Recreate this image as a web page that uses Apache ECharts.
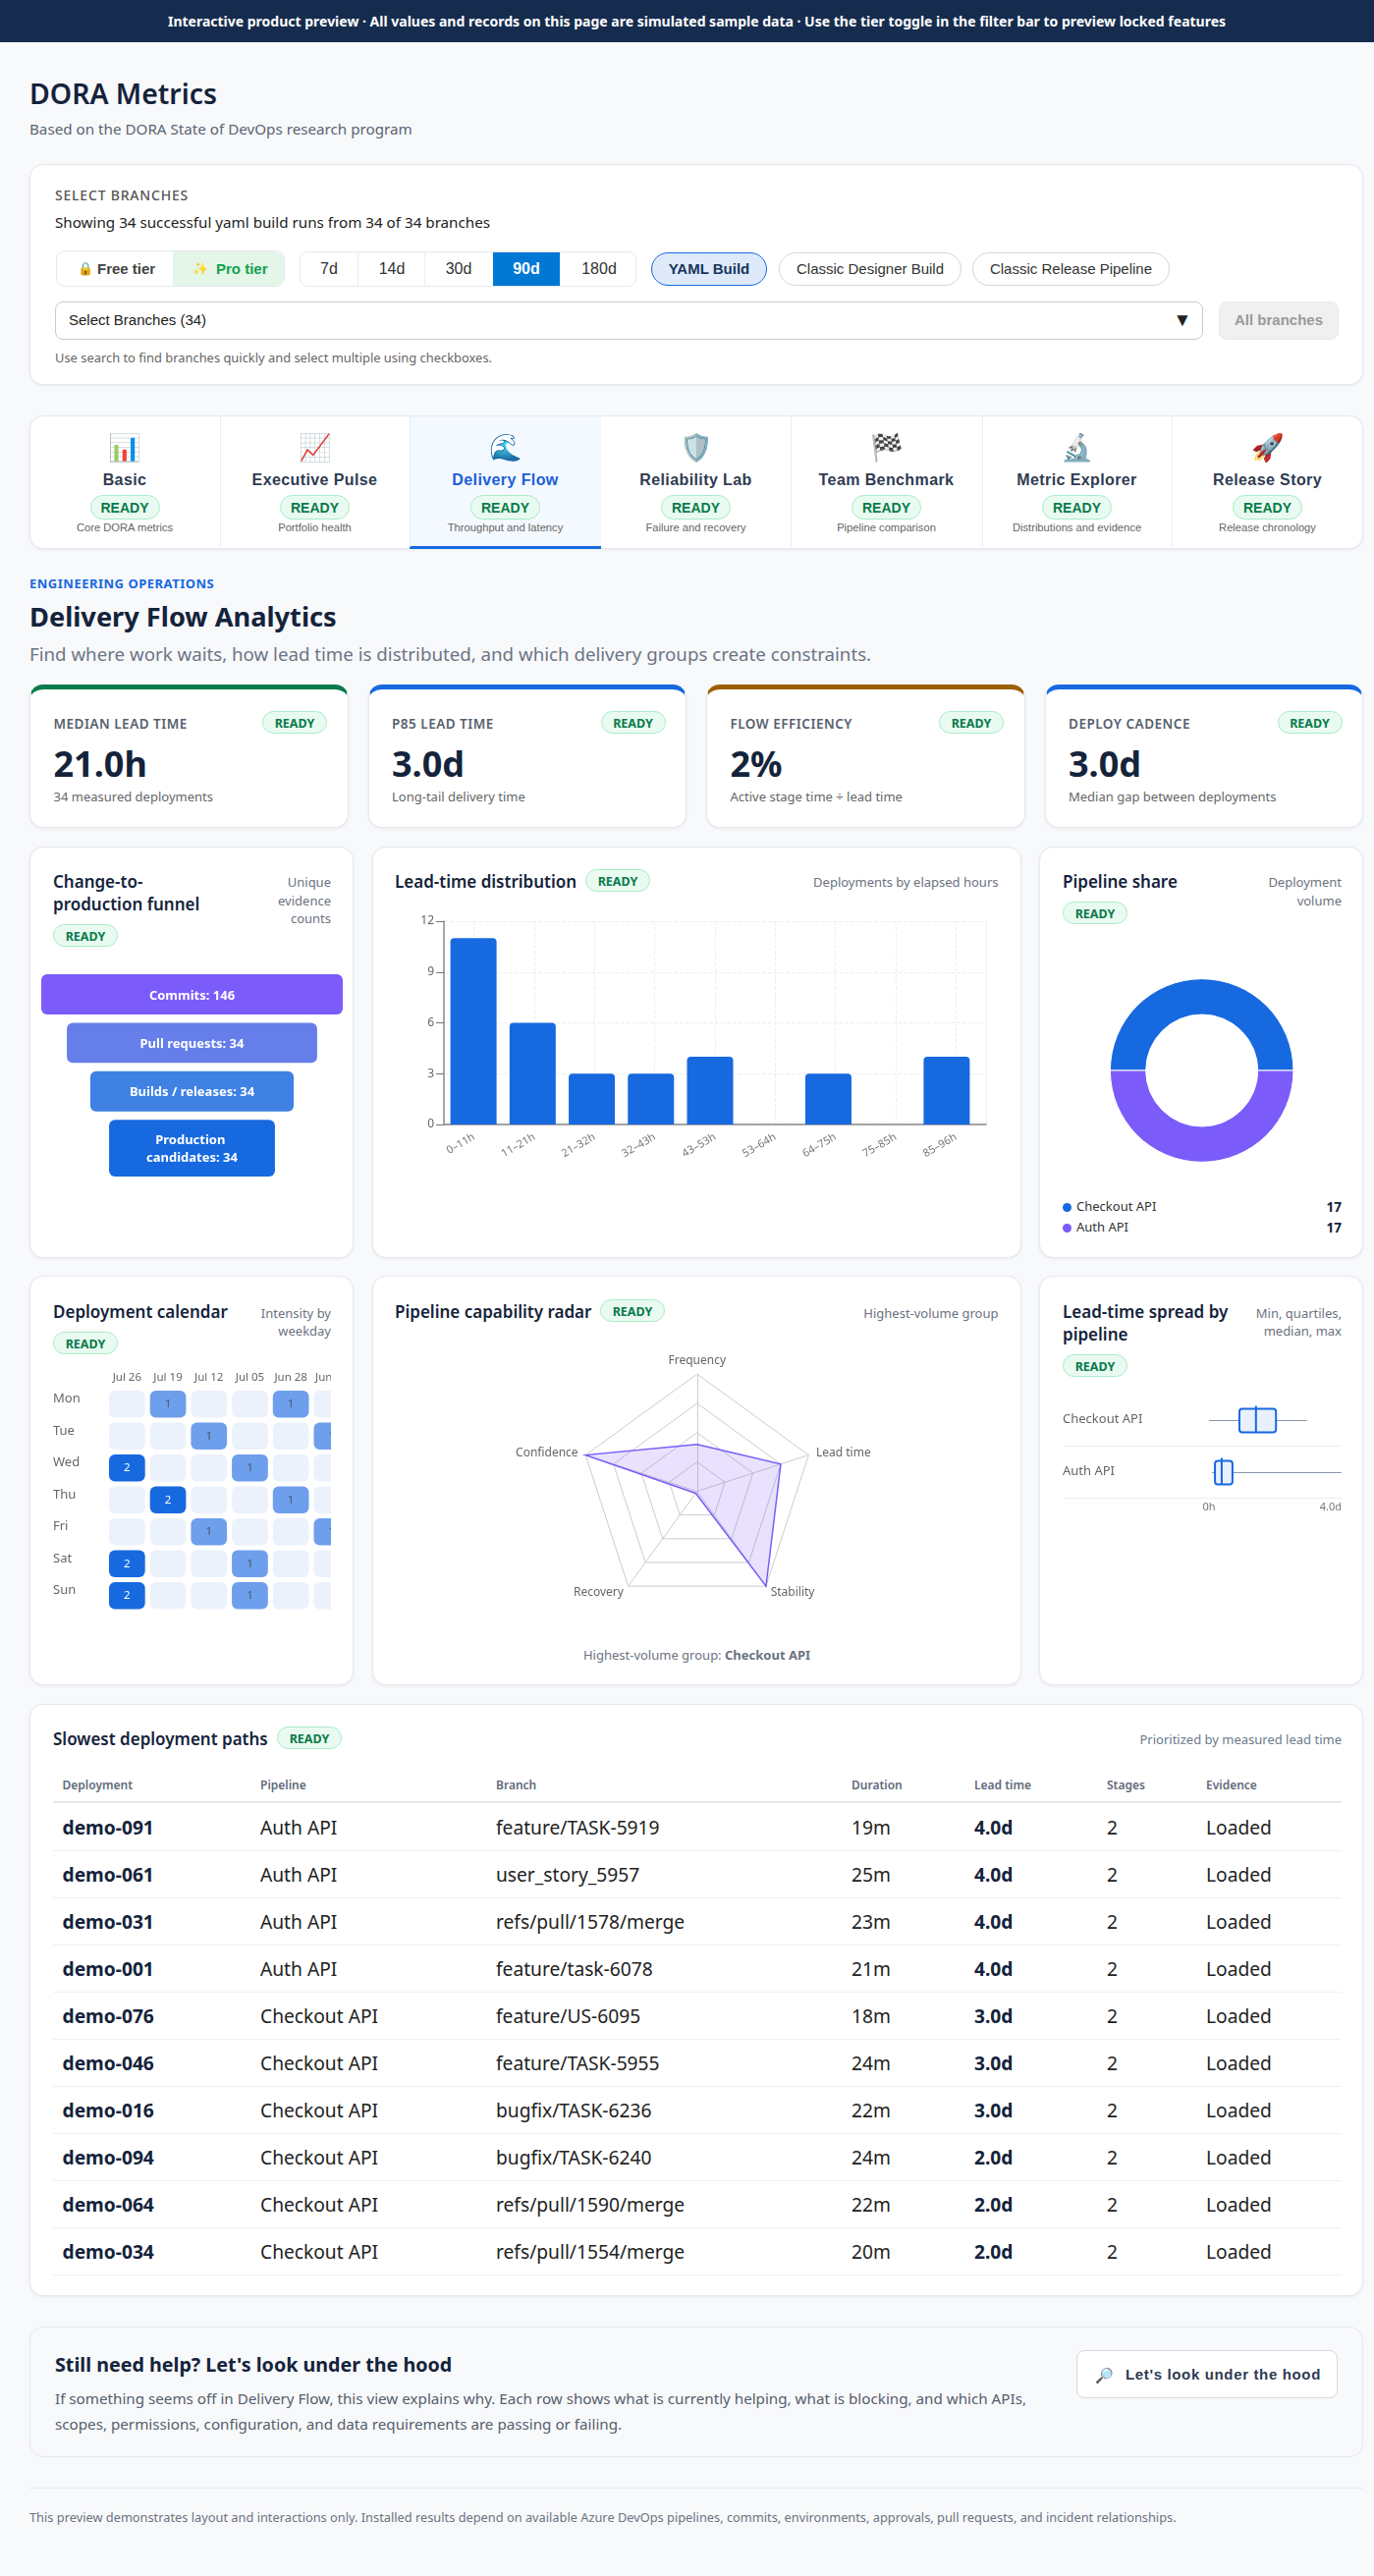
<!DOCTYPE html>
<html lang="en">
<head>
<meta charset="UTF-8">
<title>DORA Metrics</title>
<script src="https://cdn.jsdelivr.net/npm/echarts@6/dist/echarts.min.js"></script>
<style>
html,body{margin:0;padding:0;background:#f8f9fb;}
body{position:relative;width:1399px;height:2623px;overflow:hidden;font-family:"Noto Sans",sans-serif;color:#14233b;}
.a{position:absolute;box-sizing:border-box;}
.t{position:absolute;white-space:nowrap;line-height:1.2;}
.card{background:#fff;border:1px solid #e6e8ee;border-radius:14px;box-shadow:0 1px 3px rgba(20,30,60,.07);}
.arial{font-family:"Liberation Sans",Arial,sans-serif;}
</style>
</head>
<body>
<script type="text/javascript">
// ---- data ----
var tabNames = ['Basic','Executive Pulse','Delivery Flow','Reliability Lab','Team Benchmark','Metric Explorer','Release Story'];
var tabIcons = ['📊','📈','🌊','🛡️','🏁','🔬','🚀'];
var tabNotes = ['Core DORA metrics','Portfolio health','Throughput and latency','Failure and recovery','Pipeline comparison','Distributions and evidence','Release chronology'];
var rangeLabels = ['7d','14d','30d','90d','180d'];

var kpiLabels = ['MEDIAN LEAD TIME','P85 LEAD TIME','FLOW EFFICIENCY','DEPLOY CADENCE'];
var kpiValues = ['21.0h','3.0d','2%','3.0d'];
var kpiNotes = ['34 measured deployments','Long-tail delivery time','Active stage time ÷ lead time','Median gap between deployments'];

var funnelSteps = ['Commits','Pull requests','Builds / releases','Production candidates'];
var funnelCounts = [146,34,34,34];
var funnelShares = [100,83,67.5,55];   // drawn width in the picture, % of the widest step

var leadBuckets = ['0–11h','11–21h','21–32h','32–43h','43–53h','53–64h','64–75h','75–85h','85–96h'];
var leadCounts = [11,6,3,3,4,0,3,0,4];

var pipelineNames = ['Checkout API','Auth API'];
var pipelineVolumes = [17,17];

var calendarWeeks = ['Jul 26','Jul 19','Jul 12','Jul 05','Jun 28','Jun 21'];
var calendarDays = ['Mon','Tue','Wed','Thu','Fri','Sat','Sun'];
var calendarJul26 = [0,0,2,0,0,2,2];
var calendarJul19 = [1,0,0,2,0,0,0];
var calendarJul12 = [0,1,0,0,1,0,0];
var calendarJul05 = [0,0,1,0,0,1,1];
var calendarJun28 = [1,0,0,1,0,0,0];
var calendarJun21 = [0,1,0,0,1,0,0];

var radarAxes = ['Frequency','Confidence','Recovery','Stability','Lead time'];
var radarScores = [40,100,2,100,75];

// hours: min, q1, median, q3, max
var spreadCheckout = [0,22,34,48.5,71];
var spreadAuth = [2,4.3,9.2,17,96];
var spreadTicks = ['0h','4.0d'];

var tableHead = ['Deployment','Pipeline','Branch','Duration','Lead time','Stages','Evidence'];
var tableIds = ['demo-091','demo-061','demo-031','demo-001','demo-076','demo-046','demo-016','demo-094','demo-064','demo-034'];
var tablePipelines = ['Auth API','Auth API','Auth API','Auth API','Checkout API','Checkout API','Checkout API','Checkout API','Checkout API','Checkout API'];
var tableBranches = ['feature/TASK-5919','user_story_5957','refs/pull/1578/merge','feature/task-6078','feature/US-6095','feature/TASK-5955','bugfix/TASK-6236','bugfix/TASK-6240','refs/pull/1590/merge','refs/pull/1554/merge'];
var tableDurations = ['19m','25m','23m','21m','18m','24m','22m','24m','22m','20m'];
var tableLeads = ['4.0d','4.0d','4.0d','4.0d','3.0d','3.0d','3.0d','2.0d','2.0d','2.0d'];
var tableStages = [2,2,2,2,2,2,2,2,2,2];
var tableEvidence = ['Loaded','Loaded','Loaded','Loaded','Loaded','Loaded','Loaded','Loaded','Loaded','Loaded'];

var BLUE = '#1769e0', PURPLE = '#7b5cfa', GREY = '#6b7280';

// ---- page helpers ----
function box(x,y,w,h,css,cls,parent){
    var d = document.createElement('div');
    d.className = 'a ' + (cls||'');
    d.style.cssText = 'left:'+x+'px;top:'+y+'px;width:'+w+'px;height:'+h+'px;'+(css||'');
    (parent||document.body).appendChild(d);
    return d;
}
// y is the vertical centre of the text, anchor l / c / r
function txt(x,y,s,css,anchor,cls){
    var d = document.createElement('div');
    d.className = 't ' + (cls||'');
    var tx = anchor=='c' ? '-50%' : (anchor=='r' ? '-100%' : '0');
    d.style.cssText = 'left:'+x+'px;top:'+y+'px;transform:translate('+tx+',-50%);'+(css||'');
    d.innerHTML = s;
    document.body.appendChild(d);
    return d;
}
function ready(x,y){
    box(x,y,66,23,'background:#e9fbf1;border:1px solid #a9ebc8;border-radius:12px;');
    txt(x+33,y+11.5,'READY','font-size:12.5px;font-weight:700;color:#0a7a4a;','c');
}
var TITLE = 'font-size:17px;font-weight:600;color:#14233b;';
var NOTE = 'font-size:13px;color:#6b7280;';

// ---- banner and header ----
box(0,0,1399,43,'background:#162c4e;');
txt(709.5,22,'Interactive product preview · All values and records on this page are simulated sample data · Use the tier toggle in the filter bar to preview locked features','font-size:14px;font-weight:700;color:#fff;','c');
txt(30,95,'DORA Metrics','font-size:28.4px;font-weight:600;color:#14233b;');
txt(30,131,'Based on the DORA State of DevOps research program','font-size:15.2px;color:#5a6472;');

// ---- filter card ----
box(30,167,1358,225,'','card');
txt(56,199,'SELECT BRANCHES','font-size:14px;font-weight:500;color:#555;letter-spacing:.8px;');
txt(56,226,'Showing 34 successful yaml build runs from 34 of 34 branches','font-size:15.2px;color:#222;');
box(57,255,233,37,'background:#fff;border:1px solid #e6e8ee;border-radius:9px;');
box(176,256,113,35,'background:#e3f6e8;border-radius:0 9px 9px 0;');
txt(79,274,'🔒','font-size:13px;');
txt(99,274,'Free tier','font-size:15px;font-weight:700;color:#444;','l','arial');
txt(196,274,'✨','font-size:13px;');
txt(220,274,'Pro tier','font-size:15px;font-weight:700;color:#12a150;','l','arial');
box(305,256,343,36,'background:#fff;border:1px solid #e6e8ee;border-radius:8px;');
box(502,257,68,34,'background:#0078d4;');
var rangeX = [335,399,467,536,610];
for (var i=0;i<rangeLabels.length;i++){
    txt(rangeX[i],274,rangeLabels[i],'font-size:16px;'+(i==3?'font-weight:700;color:#fff;':'color:#333;'),'c','arial');
    if (i<2) box([364,432][i],257,1,34,'background:#eceef2;');
}
box(663,257,118,34,'background:#deeafa;border:1.5px solid #1769e0;border-radius:17px;');
txt(722,274,'YAML Build','font-size:15px;font-weight:700;color:#16365c;','c','arial');
box(793,257,186,34,'background:#fff;border:1.5px solid #d4d6da;border-radius:17px;');
txt(886,274,'Classic Designer Build','font-size:15px;color:#333;','c','arial');
box(990,257,201,34,'background:#fff;border:1.5px solid #d4d6da;border-radius:17px;');
txt(1090.5,274,'Classic Release Pipeline','font-size:15px;color:#333;','c','arial');
box(56,307,1169,39,'background:#fff;border:1px solid #c9ccd2;border-radius:8px;');
txt(70,326,'Select Branches (34)','font-size:15px;color:#222;','l','arial');
txt(1204,326,'▼','font-size:19px;color:#222;','c','arial');
box(1241,307,122,39,'background:#f0f0f0;border:1px solid #eaeaea;border-radius:8px;');
txt(1302,326,'All branches','font-size:15px;font-weight:700;color:#999;','c','arial');
txt(56,365,'Use search to find branches quickly and select multiple using checkboxes.','font-size:12.9px;color:#666;');

// ---- tabs ----
box(30,423,1358,136,'','card');
var tabEdges = [30,224,417,612,805,1000,1193,1388];
for (var i=0;i<tabNames.length;i++){
    var tx0 = tabEdges[i], tabW = tabEdges[i+1]-tabEdges[i], tc = tx0 + tabW/2;
    if (i==2){
        box(tx0,424,tabW,135,'background:#f4f8ff;');
        box(tx0,556,tabW,3,'background:'+BLUE+';');
    }
    if (i>0 && i!=3) box(tx0,424,1,133,'background:#eceef2;');
    txt(tc,455,tabIcons[i],'font-size:27px;','c');
    txt(tc,489,tabNames[i],'font-size:16px;font-weight:700;letter-spacing:.4px;color:'+(i==2?'#1a5fd8':'#2f3b52')+';','c','arial');
    box(tc-35.5,504,71,25,'background:#e9fbf1;border:1px solid #a9ebc8;border-radius:13px;');
    txt(tc,516.5,'READY','font-size:14px;font-weight:700;color:#0a7a4a;','c','arial');
    txt(tc,538,tabNotes[i],'font-size:11.2px;color:#666;','c','arial');
}

// ---- section heading ----
txt(30,595,'ENGINEERING OPERATIONS','font-size:13px;font-weight:700;color:'+BLUE+';letter-spacing:.5px;');
txt(30,628,'Delivery Flow Analytics','font-size:27.2px;font-weight:700;color:#14233b;');
txt(30,666,'Find where work waits, how lead time is distributed, and which delivery groups create constraints.','font-size:18.7px;color:#6b7585;');

// ---- kpi cards ----
var kpiX = [30,374.5,719,1063.5];
var kpiTop = ['#0a7a4a',BLUE,'#9c6000',BLUE];
for (var i=0;i<kpiLabels.length;i++){
    var kx = kpiX[i];
    box(kx,697,324.5,146,'border-top:5px solid '+kpiTop[i]+';','card');
    txt(kx+24.5,737,kpiLabels[i],'font-size:13.5px;font-weight:600;color:#56606e;letter-spacing:.5px;');
    ready(kx+237,724);
    txt(kx+24.5,778,kpiValues[i],'font-size:36px;font-weight:700;color:#14233b;');
    txt(kx+24.5,812,kpiNotes[i],'font-size:13px;color:#666;');
}

// ---- chart cards, row 1 ----
box(30,862,330,419,'','card');
txt(54,898,'Change-to-',TITLE);
txt(54,921,'production funnel',TITLE);
txt(337,899,'Unique',NOTE,'r');
txt(337,917.5,'evidence',NOTE,'r');
txt(337,936,'counts',NOTE,'r');
ready(54,941);

box(379,862,661,419,'','card');
txt(402,898,'Lead-time distribution',TITLE);
ready(596,885);
txt(1016.5,899,'Deployments by elapsed hours',NOTE,'r');

box(1058,862,330,419,'','card');
txt(1082,898,'Pipeline share',TITLE);
ready(1082,918);
txt(1366,899,'Deployment',NOTE,'r');
txt(1366,917.5,'volume',NOTE,'r');
var legendColors = [BLUE,PURPLE];
for (var i=0;i<pipelineNames.length;i++){
    var ly = 1229+i*21;
    box(1081.5,ly-4.5,9,9,'background:'+legendColors[i]+';border-radius:50%;');
    txt(1096,ly,pipelineNames[i],'font-size:13px;color:#333;');
    txt(1366,ly,pipelineVolumes[i],'font-size:13.5px;font-weight:700;color:#14233b;','r');
}

// ---- chart cards, row 2 ----
box(30,1299,330,417,'','card');
txt(54,1336,'Deployment calendar',TITLE);
ready(54,1356);
txt(337,1337.5,'Intensity by',NOTE,'r');
txt(337,1356,'weekday',NOTE,'r');

box(379,1299,661,417,'','card');
txt(402,1336,'Pipeline capability radar',TITLE);
ready(611,1323);
txt(1016.5,1337.5,'Highest-volume group',NOTE,'r');
txt(709.5,1686,'Highest-volume group: <b>Checkout API</b>','font-size:13px;color:#6b7280;','c');

box(1058,1299,330,417,'','card');
txt(1082,1336,'Lead-time spread by',TITLE);
txt(1082,1359,'pipeline',TITLE);
ready(1082,1379);
txt(1366,1337.5,'Min, quartiles,',NOTE,'r');
txt(1366,1356,'median, max',NOTE,'r');
box(1082,1472,284,1,'background:#eceef2;');
box(1082,1525,284,1,'background:#eceef2;');

// ---- table ----
box(30,1735,1358,603,'','card');
txt(54,1771,'Slowest deployment paths',TITLE);
ready(282,1758);
txt(1366,1772,'Prioritized by measured lead time','font-size:13px;color:#6b7a8a;','r');
var colX = [63.5,265,505,867,992,1127,1228];
for (var c=0;c<tableHead.length;c++) txt(colX[c],1818,tableHead[c],'font-size:12px;font-weight:600;color:#5f6b7a;');
box(54,1834,1312,2,'background:#e6e8ee;');
for (var r=0;r<tableIds.length;r++){
    var ry = 1860.5 + r*48;
    txt(colX[0],ry,tableIds[r],'font-size:19.2px;font-weight:700;color:#14233b;');
    txt(colX[1],ry,tablePipelines[r],'font-size:19.2px;color:#222;');
    txt(colX[2],ry,tableBranches[r],'font-size:19.2px;color:#222;');
    txt(colX[3],ry,tableDurations[r],'font-size:19.2px;color:#222;');
    txt(colX[4],ry,tableLeads[r],'font-size:19.2px;font-weight:700;color:#14233b;');
    txt(colX[5],ry,tableStages[r],'font-size:19.2px;color:#222;');
    txt(colX[6],ry,tableEvidence[r],'font-size:19.2px;color:#222;');
    box(54,1884+r*48,1312,1,'background:#eef0f2;');
}

// ---- help card and footer ----
box(30,2369,1358,133,'background:#f8f9fb;border:1px solid #e6e8ee;border-radius:14px;');
txt(56,2408,'Still need help? Let\'s look under the hood','font-size:19.7px;font-weight:700;color:#14233b;');
txt(56,2442,'If something seems off in Delivery Flow, this view explains why. Each row shows what is currently helping, what is blocking, and which APIs,','font-size:15.2px;color:#555e6c;');
txt(56,2468,'scopes, permissions, configuration, and data requirements are passing or failing.','font-size:15.2px;color:#555e6c;');
box(1096,2393,266,49,'background:#fff;border:1px solid #d5d8de;border-radius:8px;');
txt(1115,2418,'🔎','font-size:15px;');
txt(1146,2418,'Let\'s look under the hood','font-size:15px;font-weight:700;color:#2f3b52;letter-spacing:.65px;','l','arial');
box(30,2533,1358,1,'background:#e6e8ee;');
txt(30,2564,'This preview demonstrates layout and interactions only. Installed results depend on available Azure DevOps pipelines, commits, environments, approvals, pull requests, and incident relationships.','font-size:12.8px;color:#6b7280;');

// ---- charts ----
function chart(x,y,w,h,parent){
    return echarts.init(box(x,y,w,h,'','',parent), null, {renderer:'canvas'});
}

// funnel: rows are stacked in units of pixels of a one-line step, two-line steps get taller
var funnelColors = [PURPLE,'#667eea','#3f82e4',BLUE];
var funnelRows = [], funnelEnd = 0;
for (var i=0;i<funnelSteps.length;i++){
    var span = (i==3) ? 58 : 41;
    funnelRows.push([funnelShares[i], funnelEnd, funnelEnd+span, funnelSteps[i]+': '+funnelCounts[i]]);
    funnelEnd += span + 8.5;
}
funnelEnd -= 8.5;
chart(31,985,328,220).setOption({
    animation:false,
    grid:{left:11,right:10,top:7,bottom:7},
    xAxis:{type:'value',min:-50,max:50,show:false},
    yAxis:{type:'value',min:0,max:funnelEnd,inverse:true,show:false},
    series:[{
        type:'custom',
        silent:true,
        data:funnelRows,
        renderItem:function(params,api){
            var half = api.value(0)/2;
            var tl = api.coord([-half,api.value(1)]);
            var br = api.coord([half,api.value(2)]);
            var w = br[0]-tl[0], h = br[1]-tl[1];
            return {type:'group',children:[
                {type:'rect',shape:{x:tl[0],y:tl[1],width:w,height:h,r:6},style:{fill:funnelColors[params.dataIndex]}},
                {type:'text',style:{x:tl[0]+w/2,y:tl[1]+h/2+1.5,text:funnelRows[params.dataIndex][3],width:w-36,overflow:'break',
                    align:'center',verticalAlign:'middle',lineHeight:18,fill:'#fff',font:'700 13px "Noto Sans"'}}
            ]};
        }
    }]
});

// lead-time bars: the ticks and the bars have slightly different bands in the reference, so two grids
chart(380,925,650,300).setOption({
    animation:false,
    grid:[
        {left:72,width:552,top:13,height:207,outerBoundsMode:'none'},
        {left:72,width:542,top:13,height:207,outerBoundsMode:'none'}
    ],
    xAxis:[
        {type:'category',gridIndex:0,data:leadBuckets,
            axisTick:{alignWithLabel:true,length:8,lineStyle:{color:'#777'}},
            axisLine:{lineStyle:{color:'#888',width:1.5}},
            axisLabel:{rotate:30,interval:0,fontSize:11,color:'#777',fontFamily:'Noto Sans',margin:12},
            splitLine:{show:true,alignWithLabel:true,lineStyle:{type:'dashed',color:'#eee'}}},
        {type:'category',gridIndex:1,data:leadBuckets,show:false}
    ],
    yAxis:[
        {type:'value',gridIndex:0,min:0,max:12,interval:3,
            axisLine:{show:true,lineStyle:{color:'#888',width:1.5}},
            axisTick:{show:true,length:8,lineStyle:{color:'#777'}},
            axisLabel:{fontSize:12,color:'#666',fontFamily:'Noto Sans',margin:10},
            splitLine:{lineStyle:{type:'dashed',color:'#eee'}}},
        {type:'value',gridIndex:0,min:0,max:12,interval:3,position:'right',
            axisLine:{show:true,lineStyle:{type:'dashed',color:'#eee'}},
            axisTick:{show:false},axisLabel:{show:false},splitLine:{show:false}},
        {type:'value',gridIndex:1,min:0,max:12,show:false}
    ],
    series:[{type:'bar',xAxisIndex:1,yAxisIndex:2,data:leadCounts,barWidth:47,silent:true,itemStyle:{color:BLUE,borderRadius:[4,4,0,0]}}]
});

// pipeline share donut
var shareData = [];
for (var i=0;i<pipelineNames.length;i++) shareData.push({name:pipelineNames[i],value:pipelineVolumes[i],itemStyle:{color:legendColors[i]}});
chart(1059,990,328,200).setOption({
    animation:false,
    series:[{type:'pie',center:[164.7,100],radius:[57,93.3],startAngle:180,silent:true,
        label:{show:false},labelLine:{show:false},
        itemStyle:{borderColor:'#fff',borderWidth:1},
        data:shareData}]
});

// calendar, the last week runs off the card as in a scroller
var calendarCols = [calendarJul26,calendarJul19,calendarJul12,calendarJul05,calendarJun28,calendarJun21];
var calendarCells = [];
for (var c=0;c<calendarCols.length;c++){
    for (var d=0;d<calendarDays.length;d++) calendarCells.push([c,d,calendarCols[c][d]]);
}
var cellColors = ['#ebf2fc','#6e9fec',BLUE];
var calendarClip = box(54,1395,283,250,'overflow:hidden;');
chart(0,0,340,250,calendarClip).setOption({
    animation:false,
    grid:{left:54.5,top:18.5,width:250.2,height:227.5,outerBoundsMode:'none'},
    xAxis:{type:'category',position:'top',data:calendarWeeks,
        axisLine:{show:false},axisTick:{show:false},
        axisLabel:{interval:0,fontSize:11.5,color:'#666',fontFamily:'Noto Sans',margin:5}},
    yAxis:{type:'category',inverse:true,data:calendarDays,
        axisLine:{show:false},axisTick:{show:false},
        axisLabel:{interval:0,align:'left',verticalAlign:'bottom',lineHeight:10,margin:54.5,fontSize:13,color:'#666',fontFamily:'Noto Sans'}},
    series:[{
        type:'custom',silent:true,clip:false,
        encode:{x:0,y:1},
        data:calendarCells,
        renderItem:function(params,api){
            var c = api.coord([api.value(0),api.value(1)]);
            var s = api.size([1,1]);
            var w = s[0]-5, h = s[1]-5, v = api.value(2);
            var kids = [{type:'rect',shape:{x:c[0]-w/2,y:c[1]-h/2,width:w,height:h,r:6},style:{fill:cellColors[v]}}];
            if (v>0) kids.push({type:'text',style:{x:c[0],y:c[1],text:String(v),align:'center',verticalAlign:'middle',
                fill:v==2?'#fff':'#4a5568',font:'11.5px "Noto Sans"'}});
            return {type:'group',children:kids};
        }
    }]
});

// radar
var radarIndicator = [];
for (var i=0;i<radarAxes.length;i++) radarIndicator.push({name:radarAxes[i],max:100});
chart(380,1365,650,300).setOption({
    animation:false,
    radar:{center:[329.8,153.5],radius:119.4,startAngle:90,splitNumber:4,indicator:radarIndicator,
        axisName:{color:'#666',fontSize:12,fontFamily:'Noto Sans'},nameGap:8,
        axisLine:{lineStyle:{color:'#ccc'}},splitLine:{lineStyle:{color:'#ccc'}},splitArea:{show:false}},
    series:[{type:'radar',symbol:'none',silent:true,
        lineStyle:{color:PURPLE,width:1.5,join:'miter',miterLimit:10},
        areaStyle:{color:'rgba(123,92,250,0.25)'},
        data:[{value:radarScores,name:'Checkout API'}]}]
});

// lead-time spread, min / quartiles / median / max
var spreadRows = [[0].concat(spreadCheckout),[1].concat(spreadAuth)];
chart(1075,1410,300,140).setOption({
    animation:false,
    grid:{left:156,right:9,top:9,height:106,outerBoundsMode:'none'},
    xAxis:{type:'value',min:0,max:96,interval:96,
        axisLine:{show:false},axisTick:{show:false},splitLine:{show:false},
        axisLabel:{fontSize:11,color:'#777',fontFamily:'Noto Sans',margin:4,alignMinLabel:'center',alignMaxLabel:'right',
            formatter:function(v){return v==0?spreadTicks[0]:spreadTicks[1];}}},
    yAxis:{type:'category',inverse:true,data:pipelineNames,
        axisLine:{show:false},axisTick:{show:false},
        axisLabel:{align:'left',margin:149,fontSize:13,color:'#666',fontFamily:'Noto Sans'}},
    series:[{
        type:'custom',silent:true,clip:false,
        encode:{x:[1,2,3,4,5],y:0},
        data:spreadRows,
        renderItem:function(params,api){
            var row = api.value(0);
            var p = [];
            for (var k=1;k<=5;k++) p.push(api.coord([api.value(k),row]));
            var y = Math.round(p[0][1])+0.5, half = 12;
            return {type:'group',children:[
                {type:'line',shape:{x1:p[0][0],y1:y,x2:p[4][0],y2:y},style:{stroke:'#8a97a8',lineWidth:1}},
                {type:'rect',shape:{x:p[1][0],y:y-half,width:p[3][0]-p[1][0],height:half*2,r:3},style:{fill:'#e8f0fc',stroke:BLUE,lineWidth:2}},
                {type:'line',shape:{x1:p[2][0],y1:y-half-3,x2:p[2][0],y2:y+half},style:{stroke:BLUE,lineWidth:2}}
            ]};
        }
    }]
});
</script>
</body>
</html>
